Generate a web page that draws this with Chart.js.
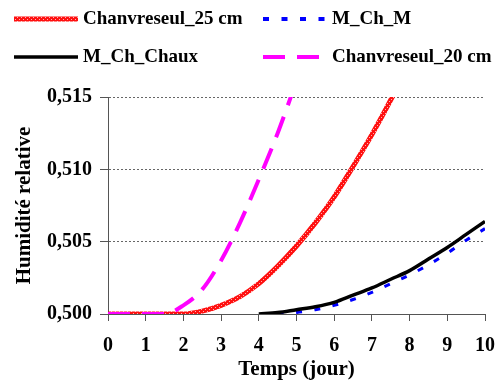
<!DOCTYPE html>
<html><head><meta charset="utf-8">
<script src="https://cdn.jsdelivr.net/npm/chart.js@4/dist/chart.umd.min.js"></script>
<style>html,body{margin:0;padding:0;background:#fff;}</style>
</head><body>
<canvas id="c" width="501" height="383"></canvas>
<script>
// ---- data ----
const days = [0,0.5,1,1.5,2,2.5,3,3.5,4,4.5,5,5.5,6,6.5,7,7.5,8,8.5,9,9.5,10];
const chanvreseul25 = [0.5,0.5,0.5,0.5,0.5,0.5002,0.5006,0.5012,0.5021,0.5033,0.5047,0.5063,0.5081,0.5102,0.5124,0.5148,0.5174,null,null,null,null];
const mChM = [null,null,null,null,null,null,null,null,null,0.5,0.5001,0.5003,0.5006,0.5010,0.5015,0.5021,0.5027,0.5034,0.5042,0.5051,0.5059];
const mChChaux = [null,null,null,null,null,null,null,null,0.5,0.5001,0.5003,0.5005,0.5008,0.5013,0.5018,0.5024,0.5030,0.5038,0.5046,0.5055,0.5064];
const chanvreseul20 = [0.5,0.5,0.5,0.5,0.5006,0.5017,0.5037,0.5063,0.5093,0.5125,0.5161,null,null,null,null,null,null,null,null,null,null];
const seriesLabels = ['Chanvreseul_25 cm','M_Ch_M','M_Ch_Chaux','Chanvreseul_20 cm'];
const xTickValues = [0,1,2,3,4,5,6,7,8,9,10];
const yTickValues = [0.500,0.505,0.510,0.515];

const FONT = '"Liberation Serif","Times New Roman",serif';

function redPattern(){
  const p = document.createElement('canvas'); p.width = 4; p.height = 4;
  const g = p.getContext('2d');
  g.fillStyle = '#ff1010'; g.fillRect(0,0,4,4);
  g.fillStyle = '#ffb0b0'; g.fillRect(1,1,1,1); g.fillRect(3,3,1,1);
  return g.createPattern(p,'repeat');
}
const pts = arr => days.map((d,i)=>({x:d,y:arr[i]}));

const legendPlugin = {
  id:'gridLegend',
  afterDraw(chart){
    const ctx = chart.ctx;
    const spots = [{x:14,y:19},{x:263,y:19},{x:14,y:57},{x:263,y:57}];
    chart.data.datasets.forEach((ds,i)=>{
      const s = spots[i];
      ctx.save();
      ctx.strokeStyle = ds.borderColor;
      ctx.lineWidth = ds.legendWidth;
      ctx.setLineDash(ds.borderDash || []);
      ctx.beginPath(); ctx.moveTo(s.x, s.y); ctx.lineTo(s.x+64, s.y); ctx.stroke();
      ctx.setLineDash([]);
      ctx.fillStyle = '#000';
      ctx.font = 'bold 19px ' + FONT;
      ctx.textBaseline = 'middle';
      ctx.fillText(ds.label, s.x+69, s.y);
      ctx.restore();
    });
  }
};

new Chart(document.getElementById('c'), {
  type:'line',
  data:{
    datasets:[
      {label:seriesLabels[0], data:pts(chanvreseul25), borderColor:redPattern(), borderWidth:5, legendWidth:5, order:1},
      {label:seriesLabels[1], data:pts(mChM), borderColor:'#0000ff', borderWidth:3, borderDash:[6,12.5], legendWidth:4, order:3},
      {label:seriesLabels[2], data:pts(mChChaux), borderColor:'#000000', borderWidth:3.5, legendWidth:3.5, order:2},
      {label:seriesLabels[3], data:pts(chanvreseul20), borderColor:'#ff00ff', borderWidth:4, borderDash:[22,12], legendWidth:4, order:0}
    ]
  },
  options:{
    responsive:false, animation:false,
    layout:{padding:{top:97,left:0,right:16,bottom:0}},
    elements:{point:{radius:0}, line:{cubicInterpolationMode:'monotone', fill:false}},
    plugins:{legend:{display:false}, tooltip:{enabled:false}},
    scales:{
      x:{
        type:'linear', min:0, max:10,
        afterBuildTicks: s => { s.ticks = xTickValues.map(v=>({value:v})); },
        afterFit: s => { s.height = 69; s.paddingRight = 0; s.paddingLeft = 0; },
        ticks:{color:'#000', font:{family:FONT, size:20, weight:'bold'}, padding:13, maxRotation:0},
        grid:{drawOnChartArea:false, tickLength:7, tickColor:'#555', lineWidth:1},
        border:{color:'#555', width:1},
        title:{display:true, text:'Temps (jour)', color:'#000', font:{family:FONT, size:21, weight:'bold'}, padding:{top:0,bottom:1}}
      },
      y:{
        min:0.5, max:0.515,
        afterBuildTicks: s => { s.ticks = yTickValues.map(v=>({value:v})); },
        afterFit: s => { s.width = 108; },
        ticks:{color:'#000', font:{family:FONT, size:20, weight:'bold'}, padding:8,
          callback: v => Number(v).toFixed(3).replace('.',',')},
        grid:{color:'#666', lineWidth:1, tickLength:8, tickColor:'#555'},
        border:{color:'#555', width:1, dash:[2,2]},
        title:{display:true, text:'Humidité relative', color:'#000', font:{family:FONT, size:21, weight:'bold'}, padding:{top:12,bottom:0}}
      }
    }
  },
  plugins:[legendPlugin]
});
</script>
</body></html>
